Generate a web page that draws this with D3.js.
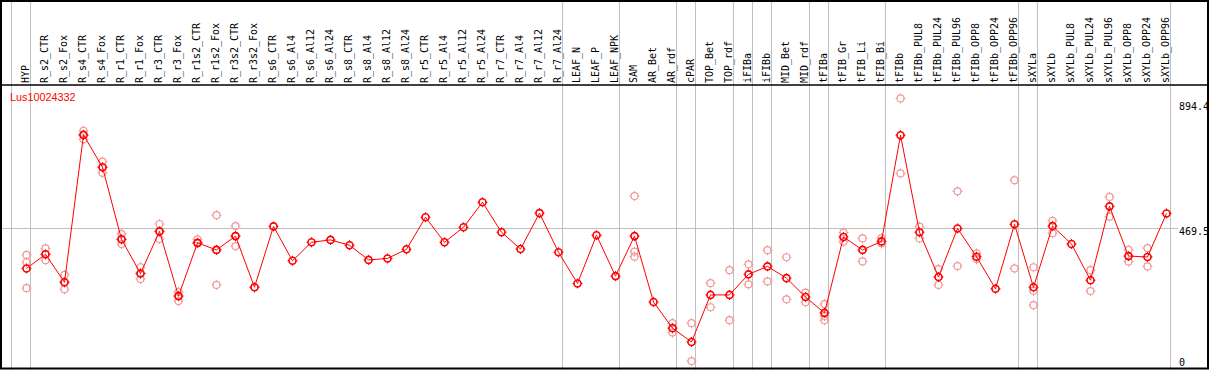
<!DOCTYPE html>
<html>
<head>
<meta charset="utf-8">
<script src="https://cdn.jsdelivr.net/npm/d3@7"></script>
<style>
  body { margin: 0; background: #fff; }
  svg { display: block; }
</style>
</head>
<body>
<svg id="chart"></svg>
<script>
// conditions along the x axis
const categories = [
  "HYP", "R_s2_CTR", "R_s2_Fox", "R_s4_CTR", "R_s4_Fox", "R_r1_CTR", "R_r1_Fox",
  "R_r3_CTR", "R_r3_Fox", "R_r1s2_CTR", "R_r1s2_Fox", "R_r3s2_CTR", "R_r3s2_Fox",
  "R_s6_CTR", "R_s6_Al4", "R_s6_Al12", "R_s6_Al24", "R_s8_CTR", "R_s8_Al4",
  "R_s8_Al12", "R_s8_Al24", "R_r5_CTR", "R_r5_Al4", "R_r5_Al12", "R_r5_Al24",
  "R_r7_CTR", "R_r7_Al4", "R_r7_Al12", "R_r7_Al24", "LEAF_N", "LEAF_P", "LEAF_NPK",
  "SAM", "AR_Bet", "AR_rdf", "cPAR", "TOP_Bet", "TOP_rdf", "iFIBa", "iFIBb",
  "MID_Bet", "MID_rdf", "tFIBa", "tFIB_Gr", "tFIB_Li", "tFIB_Bi", "tFIBb",
  "tFIBb_PUL8", "tFIBb_PUL24", "tFIBb_PUL96", "tFIBb_OPP8", "tFIBb_OPP24", "tFIBb_OPP96",
  "sXYLa", "sXYLb", "sXYLb_PUL8", "sXYLb_PUL24", "sXYLb_PUL96", "sXYLb_OPP8",
  "sXYLb_OPP24", "sXYLb_OPP96"
];

// mean expression per condition
const means = [
  333, 381, 286, 787, 677, 432, 316, 459, 239, 420, 396, 443, 269,
  476, 359, 422, 430, 412, 362, 367, 398, 507, 422, 473, 558,
  456, 399, 521, 388, 282, 446, 307,
  443, 219, 130, 83, 243, 243, 313, 340, 300, 236,
  182, 440, 396, 425, 786, 456, 304, 469, 373, 264, 483,
  269, 477, 416, 293, 544, 375, 372, 520
];

// replicate values (light circles)
const replicates = [
  [379, 354, 266], [401, 381, 361], [311, 286, 262], [801, 787, 772], [696, 677, 658],
  [450, 432, 416], [337, 316, 297], [484, 459, 433], [253, 239, 222], [432, 420, 418],
  [514, 396, 277], [477, 443, 409], [269],
  [], [], [], [], [], [], [], [], [], [], [], [], [], [], [], [], [], [], [],
  [579, 390, 373], [], [147, 115], [147, 18], [283, 201], [327, 157], [347, 279],
  [395, 289], [371, 228], [251, 218], [212, 171, 157], [455, 424], [435, 357],
  [436, 418], [911, 656], [475, 435], [331, 277], [595, 341], [384, 365], [],
  [633, 333], [337, 257, 208], [495, 453], [], [327, 256], [576, 509], [396, 356],
  [402, 340], []
];

// group separators are drawn after these condition indices
const groupEnds = [-1, 0, 28, 31, 34, 35, 37, 38, 39, 41, 42, 45, 52, 53, 60];

// values shown on the right axis
const axisTicks = [894.4, 469.5, 0];
const gridValue = 469.5;
const geneName = "Lus10024332";

const width = 1209, height = 370;
const step = 19;

const svg = d3.select('#chart')
  .attr('width', width)
  .attr('height', height);

const x = d3.scalePoint()
  .domain(categories)
  .range([26.5, 26.5 + step * (categories.length - 1)]);

const y = d3.scaleLinear()
  .domain([0, 894.4])
  .range([366.4, 103.3]);

const mono = "'DejaVu Sans Mono', monospace";

// horizontal grid line
svg.append('line')
  .attr('x1', 1).attr('x2', 1178)
  .attr('y1', Math.round(y(gridValue)) + 0.5)
  .attr('y2', Math.round(y(gridValue)) + 0.5)
  .attr('stroke', '#c0c0c0');

// vertical group separators
svg.selectAll('.sep')
  .data(groupEnds)
  .enter().append('line')
  .attr('class', 'sep')
  .attr('x1', d => Math.floor(x(categories[0]) + step * d + 4) + 0.5)
  .attr('x2', d => Math.floor(x(categories[0]) + step * d + 4) + 0.5)
  .attr('y1', 0).attr('y2', height)
  .attr('stroke', '#c0c0c0');

// frame and header line
svg.append('rect')
  .attr('x', 1).attr('y', 1)
  .attr('width', 1207).attr('height', 367.5)
  .attr('fill', 'none')
  .attr('stroke', '#000')
  .attr('stroke-width', 2);

svg.append('line')
  .attr('x1', 0).attr('x2', width)
  .attr('y1', 85).attr('y2', 85)
  .attr('stroke', '#000')
  .attr('stroke-width', 1.5);

// rotated condition labels
svg.selectAll('.cat')
  .data(categories)
  .enter().append('text')
  .attr('class', 'cat')
  .attr('transform', d => `translate(${x(d) + 2},83) rotate(-90) scale(1,1.08)`)
  .attr('font-family', mono)
  .attr('font-size', '10px')
  .attr('fill', '#000')
  .text(d => d);

// right axis labels
svg.selectAll('.tick')
  .data(axisTicks)
  .enter().append('text')
  .attr('class', 'tick')
  .attr('x', 1179)
  .attr('y', d => d === 0 ? 366 : y(d) + 7)
  .attr('font-family', mono)
  .attr('font-size', '10px')
  .attr('fill', '#000')
  .text(d => d);

// gene title
svg.append('text')
  .attr('x', 10).attr('y', 101)
  .attr('font-family', "'Liberation Sans', Arial, sans-serif")
  .attr('font-size', '10.8px')
  .attr('fill', '#ff0000')
  .text(geneName);

// marker: circle with small ticks at the four sides
function marker(g, color, r, w) {
  g.append('circle')
    .attr('r', r)
    .attr('fill', 'none')
    .attr('stroke', color)
    .attr('stroke-width', w);
  g.append('path')
    .attr('d', `M0,${-r - 1.5}V${-r + 0.5}M0,${r - 0.5}V${r + 1.5}M${-r - 1.5},0H${-r + 0.5}M${r - 0.5},0H${r + 1.5}`)
    .attr('stroke', color)
    .attr('stroke-width', 1);
}

// replicate circles
const repPoints = [];
replicates.forEach((vals, i) => {
  vals.forEach(v => repPoints.push({ cat: categories[i], value: v }));
});

svg.selectAll('.rep')
  .data(repPoints)
  .enter().append('g')
  .attr('class', 'rep')
  .attr('transform', d => `translate(${x(d.cat)},${y(d.value)})`)
  .each(function() { marker(d3.select(this), '#f09a9a', 3.5, 1.2); });

// mean line
const line = d3.line()
  .x((d, i) => x(categories[i]))
  .y(d => y(d));

svg.append('path')
  .datum(means)
  .attr('d', line)
  .attr('fill', 'none')
  .attr('stroke', '#ff0000')
  .attr('stroke-width', 1);

// mean markers
svg.selectAll('.mean')
  .data(means)
  .enter().append('g')
  .attr('class', 'mean')
  .attr('transform', (d, i) => `translate(${x(categories[i])},${y(d)})`)
  .each(function() { marker(d3.select(this), '#ff0000', 3.5, 1.6); });
</script>
</body>
</html>
